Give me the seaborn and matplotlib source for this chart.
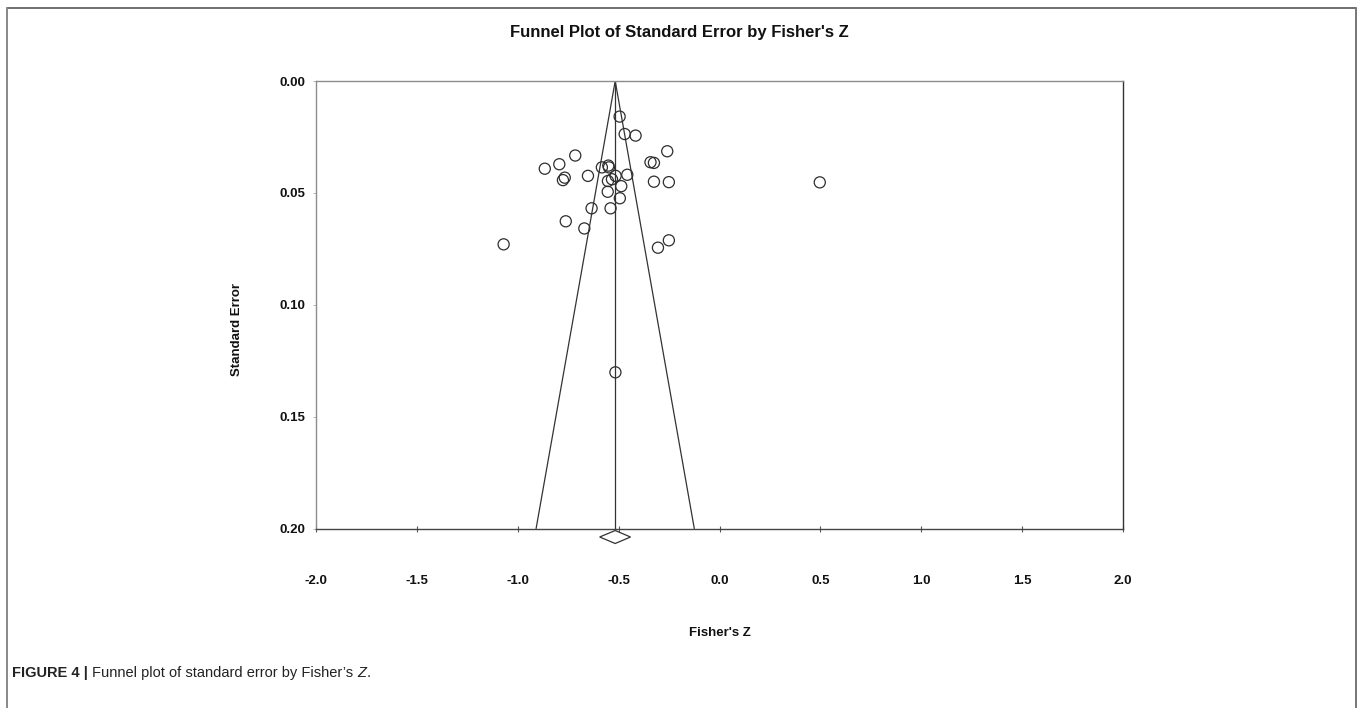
import matplotlib
matplotlib.use('Agg')
import matplotlib.pyplot as plt
import seaborn as sns
from matplotlib.lines import Line2D

# значения
fisher_z = [-0.495, -0.470, -0.416, -0.259, -0.715, -0.794, -0.866, -0.583, -0.551, -0.548,
            -0.342, -0.325, -0.652, -0.515, -0.457, -0.776, -0.767, -0.553, -0.533, -0.487,
            -0.325, -0.251, 0.497, -0.554, -0.494, -0.634, -0.540, -0.762, -0.670, -1.070,
            -0.305, -0.251, -0.516]
std_err = [0.0159, 0.0237, 0.0244, 0.0314, 0.0333, 0.0372, 0.0392, 0.0386, 0.0378, 0.0386,
           0.0363, 0.0366, 0.0424, 0.0424, 0.0419, 0.0443, 0.0432, 0.0447, 0.0439, 0.0470,
           0.0450, 0.0452, 0.0453, 0.0495, 0.0524, 0.0569, 0.0569, 0.0627, 0.0659, 0.0730,
           0.0745, 0.0712, 0.1302]

# суммарный эффект и его доверительный интервал (ромб)
summary_z = -0.517
ci_low = -0.594
ci_high = -0.441

x_ticks = [-2.0, -1.5, -1.0, -0.5, 0.0, 0.5, 1.0, 1.5, 2.0]
y_ticks = [0.00, 0.05, 0.10, 0.15, 0.20]

sns.set_style('white')
plt.rcParams['font.family'] = ['Liberation Sans', 'DejaVu Sans']

W, H = 1358, 708
fig = plt.figure(figsize=(W / 100, H / 100), dpi=100)
ax = fig.add_axes([316 / W, 1 - 528.5 / H, (1123 - 316) / W, (528.5 - 81) / H])

# воронка и линия суммарного эффекта
se_max = y_ticks[-1]
ax.plot([summary_z - 1.96 * se_max, summary_z, summary_z + 1.96 * se_max],
        [se_max, 0, se_max], color='#333333', linewidth=0.9)
ax.plot([summary_z, summary_z], [0, se_max], color='#333333', linewidth=0.9)

sns.scatterplot(x=fisher_z, y=std_err, ax=ax, marker='o', s=64,
                facecolor='none', edgecolor='#2e2e2e', linewidth=0.9, zorder=3)

# ромб под осью
d_mid, d_half = 0.2038, 0.0029
ax.fill([ci_low, summary_z, ci_high, summary_z],
        [d_mid, d_mid - d_half, d_mid, d_mid + d_half],
        facecolor='white', edgecolor='#333333', linewidth=0.9, clip_on=False, zorder=4)

ax.set_xlim(x_ticks[0], x_ticks[-1])
ax.set_ylim(y_ticks[-1], y_ticks[0])
ax.set_xticks(x_ticks)
ax.set_xticklabels([f'{v:.1f}' for v in x_ticks])
ax.set_yticks(y_ticks)
ax.set_yticklabels([f'{v:.2f}' for v in y_ticks])

ax.tick_params(axis='x', direction='inout', length=5, width=0.8, color='#555555',
               pad=31, labelsize=9.5, bottom=True)
ax.tick_params(axis='y', direction='out', length=2.5, width=0.6, color='#aaaaaa',
               pad=5, labelsize=9.5, left=True)
for lab in ax.get_xticklabels() + ax.get_yticklabels():
    lab.set_fontweight('bold')
    lab.set_color('#111111')

for side, col in [('top', '#8c8c8c'), ('left', '#8c8c8c'), ('right', '#333333'), ('bottom', '#444444')]:
    ax.spines[side].set_visible(True)
    ax.spines[side].set_color(col)
    ax.spines[side].set_linewidth(1.0)

ax.set_xlabel("Fisher's Z", fontweight='bold', fontsize=9.5, va='center', color='#111111')
ax.xaxis.set_label_coords(0.5, -(633 - 528.5) / 447.5)
ax.set_ylabel('Standard Error', fontweight='bold', fontsize=9.5, va='center', color='#111111')
ax.yaxis.set_label_coords((237 - 316) / 807, 1 - (330 - 81) / 447.5)

fig.text(679 / W, 1 - 33 / H, "Funnel Plot of Standard Error by Fisher's Z",
         ha='center', va='center', fontsize=12, fontweight='bold', color='#111111')

# рамка публикации
fig.add_artist(Line2D([7 / W, 1356 / W], [1 - 8 / H, 1 - 8 / H], color='#555555', linewidth=1.2))
fig.add_artist(Line2D([7 / W, 7 / W], [0, 1 - 8 / H], color='#888888', linewidth=1.4))
fig.add_artist(Line2D([1356 / W, 1356 / W], [0, 1 - 8 / H], color='#777777', linewidth=1.4))

# подпись к рисунку: куски текста подряд, Z курсивом
cap_font = ['Liberation Sans Narrow', 'Liberation Sans', 'DejaVu Sans']
last = fig.text(12 / W, 1 - 680 / H, 'FIGURE 4 | ', fontsize=10.5, fontweight='bold',
                family=cap_font, color='#222222', va='bottom')
parts = [('Funnel plot of standard error by Fisher\u2019s ', 'normal'), ('Z', 'italic'), ('.', 'normal')]
for txt, style in parts:
    last = ax.annotate(txt, xy=(1, 0), xycoords=last, va='bottom', ha='left',
                       fontsize=10.5, style=style, family=cap_font, color='#222222',
                       annotation_clip=False)

fig.savefig('out.png', dpi=100)
